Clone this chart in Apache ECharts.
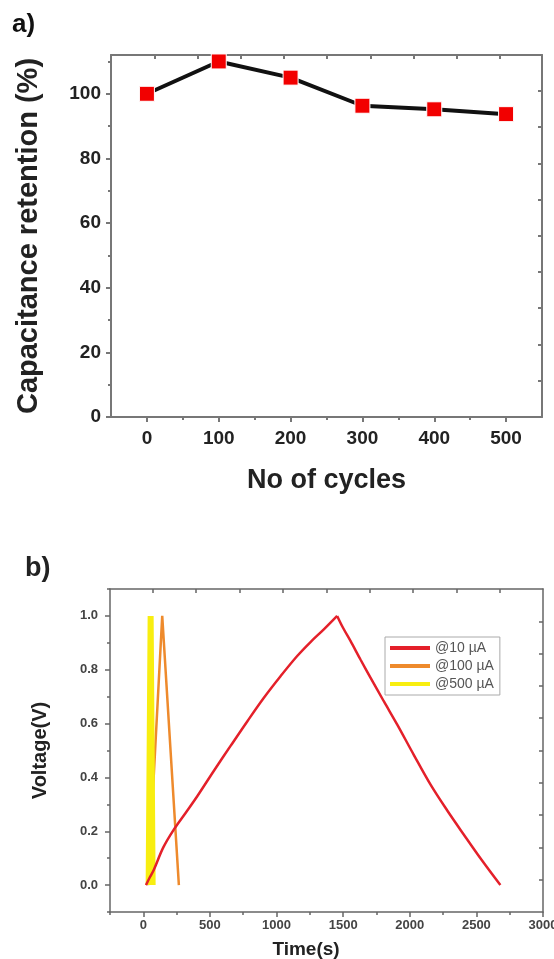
<!DOCTYPE html>
<html>
<head>
<meta charset="utf-8">
<script src="https://cdn.jsdelivr.net/npm/echarts@6/dist/echarts.min.js"></script>
<style>
  html, body { margin: 0; padding: 0; background: #fff; }
</style>
</head>
<body>
<div id="main" style="width:554px;height:959px;"></div>
<script type="text/javascript">
// panel a) capacitance retention vs cycles
var cycles = [0, 100, 200, 300, 400, 500];
var retention = [100, 110, 105, 96.3, 95.2, 93.7];
var cycleTicks = [0, 100, 200, 300, 400, 500];
var cycleMinor = [50, 150, 250, 350, 450];
var retentionTicks = [0, 20, 40, 60, 80, 100];
var retentionMinor = [10, 30, 50, 70, 90, 110];
// mirrored ticks (top / right frame)
var cycleTopTicks = [11, 71, 131, 191, 251, 311, 371, 431, 491];
var retentionRightTicks = [11.3, 22.5, 33.7, 44.9, 56.1, 67.3, 78.5, 89.7, 100.9];

// panel b) charge / discharge curves
var charge10Time = [20, 50, 80, 150, 230, 320, 405, 530, 655, 780, 905, 1030, 1155, 1255, 1355, 1455];
var charge10Volt = [0, 0.03, 0.058, 0.14, 0.207, 0.27, 0.33, 0.425, 0.517, 0.608, 0.696, 0.776, 0.851, 0.903, 0.95, 1.0];
var discharge10Time = [1455, 1500, 1555, 1630, 1705, 1805, 1905, 2030, 2155, 2280, 2405, 2540, 2680];
var discharge10Volt = [1.0, 0.955, 0.907, 0.838, 0.771, 0.683, 0.597, 0.484, 0.374, 0.278, 0.188, 0.093, 0];
var time100 = [35, 142, 267];
var volt100 = [0, 1.0, 0];
var time500 = [40, 55, 70];
var volt500 = [0, 1.0, 0];
var timeTicks = [0, 500, 1000, 1500, 2000, 2500, 3000];
var timeMinor = [-250, 250, 750, 1250, 1750, 2250, 2750];
var voltTicks = [0, 0.2, 0.4, 0.6, 0.8, 1.0];
var voltMinor = [-0.1, 0.1, 0.3, 0.5, 0.7, 0.9, 1.1];
var timeTopTicks = [70, 396, 722, 1048, 1374, 1700, 2026, 2352, 2678];
var voltRightTicks = [0.02, 0.14, 0.26, 0.38, 0.5, 0.62, 0.74, 0.86, 0.98];

function pairs(xs, ys) {
    return xs.map(function (x, i) { return [x, ys[i]]; });
}

var font = 'Liberation Sans, Arial, sans-serif';

// a plain frame axis: only line + ticks, no labels
function frameAxis(grid, pos, min, max, ticks, len, inside, color, width, showLine) {
    return {
        type: 'value', gridIndex: grid, position: pos, min: min, max: max,
        splitLine: { show: false },
        axisLine: { show: showLine, onZero: false, lineStyle: { color: color, width: width } },
        axisTick: { show: true, inside: inside, length: len, customValues: ticks,
                    lineStyle: { color: color, width: width } },
        axisLabel: { show: false, customValues: ticks }
    };
}

var myChart = echarts.init(document.getElementById('main'));

var gA = '#777';
var gB = '#666';

var option = {
    animation: false,
    backgroundColor: '#fff',
    grid: [
        { left: 111, top: 55, width: 431, height: 362, outerBoundsMode: 'none', containLabel: false },
        { left: 110, top: 589, width: 433, height: 323, outerBoundsMode: 'none', containLabel: false }
    ],
    graphic: [
        { type: 'text', left: 12, top: 12, style: { text: 'a)', font: 'bold 26px ' + font, fill: '#111' } },
        { type: 'text', left: 25, top: 555, style: { text: 'b)', font: 'bold 27px ' + font, fill: '#222' } },
        { type: 'text', x: 306, y: 950, style: { text: 'Time(s)', font: 'bold 19px ' + font, fill: '#222',
            align: 'center', verticalAlign: 'middle' } }
    ],
    legend: {
        left: 385, top: 637, orient: 'vertical',
        data: ['@10 µA', '@100 µA', '@500 µA'],
        icon: 'rect', itemWidth: 40, itemHeight: 4, itemGap: 4,
        padding: [4, 6, 4, 5],
        borderColor: '#aaa', borderWidth: 1,
        textStyle: { fontFamily: font, fontSize: 14, color: '#555' }
    },
    xAxis: [
        // panel a
        {
            type: 'value', gridIndex: 0, position: 'bottom', min: -50, max: 550,
            name: 'No of cycles', nameLocation: 'middle', nameGap: 50,
            nameTextStyle: { fontFamily: font, fontSize: 27, fontWeight: 'bold', color: '#222' },
            splitLine: { show: false },
            axisLine: { onZero: false, lineStyle: { color: gA, width: 2 } },
            axisTick: { length: 5, customValues: cycleTicks, lineStyle: { color: gA, width: 2 } },
            axisLabel: { customValues: cycleTicks, margin: 12, fontFamily: font, fontSize: 19,
                         fontWeight: 'bold', color: '#222' }
        },
        frameAxis(0, 'bottom', -50, 550, cycleMinor, 3, false, gA, 2, false),
        frameAxis(0, 'top', -50, 550, cycleTopTicks, 4, true, gA, 2, true),
        // panel b
        {
            type: 'value', gridIndex: 1, position: 'bottom', min: -250, max: 3000,
            splitLine: { show: false },
            axisLine: { onZero: false, lineStyle: { color: gB, width: 1.5 } },
            axisTick: { length: 5, customValues: timeTicks, lineStyle: { color: gB, width: 1.5 } },
            axisLabel: { customValues: timeTicks, margin: 7, fontFamily: font, fontSize: 13,
                         fontWeight: 'bold', color: '#444',
                         formatter: function (v) { return String(v); } }
        },
        frameAxis(1, 'bottom', -250, 3000, timeMinor, 3, false, gB, 1.5, false),
        frameAxis(1, 'top', -250, 3000, timeTopTicks, 4, true, gB, 1.5, true)
    ],
    yAxis: [
        // panel a
        {
            type: 'value', gridIndex: 0, position: 'left', min: 0, max: 112,
            name: 'Capacitance retention (%)', nameLocation: 'middle', nameGap: 68,
            nameTextStyle: { fontFamily: font, fontSize: 29, fontWeight: 'bold', color: '#222' },
            splitLine: { show: false },
            axisLine: { onZero: false, lineStyle: { color: gA, width: 2 } },
            axisTick: { length: 5, customValues: retentionTicks, lineStyle: { color: gA, width: 2 } },
            axisLabel: { customValues: retentionTicks, margin: 10, fontFamily: font, fontSize: 19,
                         fontWeight: 'bold', color: '#222' }
        },
        frameAxis(0, 'left', 0, 112, retentionMinor, 3, false, gA, 2, false),
        frameAxis(0, 'right', 0, 112, retentionRightTicks, 4, true, gA, 2, true),
        // panel b
        {
            type: 'value', gridIndex: 1, position: 'left', min: -0.1, max: 1.1,
            name: 'Voltage(V)', nameLocation: 'middle', nameGap: 60,
            nameTextStyle: { fontFamily: font, fontSize: 20, fontWeight: 'bold', color: '#222' },
            splitLine: { show: false },
            axisLine: { onZero: false, lineStyle: { color: gB, width: 1.5 } },
            axisTick: { length: 5, customValues: voltTicks, lineStyle: { color: gB, width: 1.5 } },
            axisLabel: { customValues: voltTicks, margin: 12, fontFamily: font, fontSize: 13,
                         fontWeight: 'bold', color: '#444',
                         formatter: function (v) { return v.toFixed(1); } }
        },
        frameAxis(1, 'left', -0.1, 1.1, voltMinor, 3, false, gB, 1.5, false),
        frameAxis(1, 'right', -0.1, 1.1, voltRightTicks, 4, true, gB, 1.5, true)
    ],
    series: [
        {
            name: 'retention', type: 'line', xAxisIndex: 0, yAxisIndex: 0,
            data: pairs(cycles, retention),
            symbol: 'rect', symbolSize: 15,
            lineStyle: { color: '#111', width: 4 },
            itemStyle: { color: '#f20000', borderColor: '#fff', borderWidth: 1 },
            z: 3
        },
        {
            name: '@100 µA', type: 'line', xAxisIndex: 3, yAxisIndex: 3,
            data: pairs(time100, volt100), showSymbol: false,
            color: '#ee8a2c', lineStyle: { color: '#ee8a2c', width: 2.5 }, z: 2
        },
        {
            name: '@500 µA', type: 'line', xAxisIndex: 3, yAxisIndex: 3,
            data: pairs(time500, volt500), showSymbol: false,
            color: '#f8ee10', lineStyle: { color: '#f8ee10', width: 6 }, z: 3
        },
        {
            name: '@10 µA', type: 'line', xAxisIndex: 3, yAxisIndex: 3,
            data: pairs(charge10Time, charge10Volt), showSymbol: false, smooth: 0.35,
            color: '#e4202a', lineStyle: { color: '#e4202a', width: 2.5 }, z: 4
        },
        {
            name: '@10 µA', type: 'line', xAxisIndex: 3, yAxisIndex: 3,
            data: pairs(discharge10Time, discharge10Volt), showSymbol: false, smooth: 0.35,
            color: '#e4202a', lineStyle: { color: '#e4202a', width: 2.5 }, z: 4
        }
    ]
};

myChart.setOption(option);
</script>
</body>
</html>
